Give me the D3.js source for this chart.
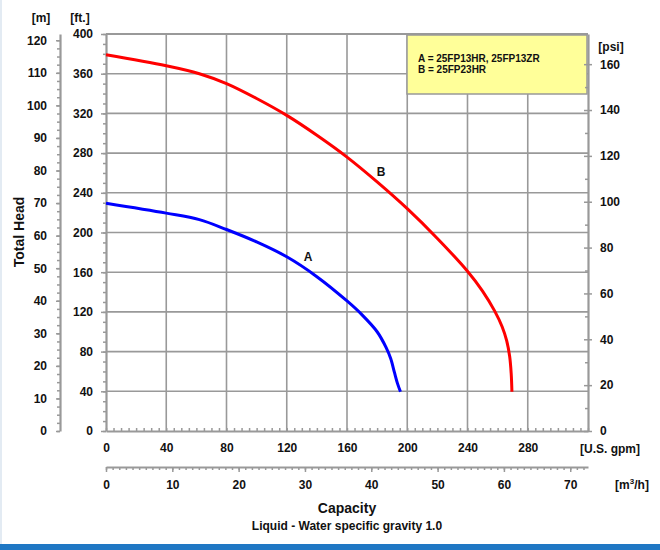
<!DOCTYPE html>
<html lang="en">
<head>
<meta charset="UTF-8">
<title>Pump curve</title>
<style>
  body { margin: 0; background: #fff; }
  svg text { font-family: "Liberation Sans", Arial, sans-serif; font-weight: bold; fill: #111; }
</style>
</head>
<body>
<script src="https://d3js.org/d3.v7.min.js"></script>
<script>
// ---- data (capacity in US gpm, head in ft) ----
var gpmTicks = [0, 40, 80, 120, 160, 200, 240, 280];
var m3hTicks = [0, 10, 20, 30, 40, 50, 60, 70];
var ftTicks = [0, 40, 80, 120, 160, 200, 240, 280, 320, 360, 400];
var mTicks = [0, 10, 20, 30, 40, 50, 60, 70, 80, 90, 100, 110, 120];
var psiTicks = [0, 20, 40, 60, 80, 100, 120, 140, 160];

var curveA_gpm = [0, 40, 62, 80, 100, 120, 140, 160, 170, 180, 186, 189, 191.5, 193.5, 195.5];
var curveA_ft  = [229.5, 219.5, 213, 203, 190.5, 175.5, 155.5, 131, 117, 100, 84, 73, 59, 48, 39.6];
var curveB_gpm = [0, 40, 62, 80, 100, 120, 140, 160, 180, 200, 220, 240, 250, 258, 263, 266, 268, 269, 269.5];
var curveB_ft  = [379, 368, 360, 350, 335, 318, 298, 276, 251, 224, 194, 161, 141, 121, 105, 91, 75, 58, 39.6];

var legendLines = ["A = 25FP13HR, 25FP13ZR", "B = 25FP23HR"];

var W = 660, H = 550;
var plotL = 106, plotR = 588, plotT = 34, plotB = 431;
var gray = "#999";

var svg = d3.select("body").append("svg")
    .attr("width", W).attr("height", H);

svg.append("rect").attr("width", W).attr("height", H).attr("fill", "#fff");
svg.append("rect").attr("x", 0).attr("y", 0).attr("width", 2).attr("height", H).attr("fill", "#e3ebf3");
svg.append("rect").attr("x", 0).attr("y", 544).attr("width", W).attr("height", 6).attr("fill", "#1f77c4");

var x = d3.scaleLinear().domain([0, 320]).range([plotL, plotR]);
var xm3 = d3.scaleLinear().domain([0, 320 / 4.4029]).range([plotL, plotR]);
var y = d3.scaleLinear().domain([0, 400]).range([plotB, plotT]);
var ym = d3.scaleLinear().domain([0, 400 * 0.3048]).range([plotB, plotT]);
var yp = d3.scaleLinear().domain([0, 400 / 2.31]).range([plotB, plotT]);

// grid
var grid = svg.append("g").attr("stroke", gray).attr("stroke-width", 1.6);
grid.selectAll(".gv").data(gpmTicks.slice(1)).enter().append("line")
    .attr("x1", function(d) { return x(d); }).attr("x2", function(d) { return x(d); })
    .attr("y1", plotT).attr("y2", plotB);
grid.selectAll(".gh").data(ftTicks.slice(1)).enter().append("line")
    .attr("y1", function(d) { return y(d); }).attr("y2", function(d) { return y(d); })
    .attr("x1", plotL).attr("x2", plotR);

// legend box
svg.append("rect").attr("x", 407).attr("y", 35).attr("width", 180).attr("height", 59)
    .attr("fill", "#ffff99").attr("stroke", gray).attr("stroke-width", 1.5);
svg.selectAll(".leg").data(legendLines).enter().append("text")
    .attr("x", 418).attr("y", function(d, i) { return 62 + i * 11; })
    .attr("font-size", "10px").text(function(d) { return d; });

function styleAxis(g) {
    g.select(".domain").attr("stroke", gray).attr("stroke-width", 2.2);
    g.selectAll(".tick line").attr("stroke", gray).attr("stroke-width", 1.5);
    g.selectAll("text").attr("font-size", "12px").attr("fill", "#111");
}

// ft axis (left of plot)
svg.append("g").attr("transform", "translate(" + plotL + ",0)")
    .call(d3.axisLeft(y).tickValues(d3.range(0, 401, 10)).tickSize(3).tickFormat("").tickSizeOuter(0))
    .call(styleAxis);
svg.append("g").attr("transform", "translate(" + plotL + ",0)")
    .call(d3.axisLeft(y).tickValues(ftTicks).tickSize(5).tickPadding(8))
    .call(styleAxis).call(function(g) { g.select(".domain").remove(); });

// m axis
svg.append("g").attr("transform", "translate(60,0)")
    .call(d3.axisLeft(ym).tickValues(d3.range(0, 121, 2.5)).tickSize(3).tickFormat("").tickSizeOuter(0))
    .call(styleAxis);
svg.append("g").attr("transform", "translate(60,0)")
    .call(d3.axisLeft(ym).tickValues(mTicks).tickSize(4).tickPadding(9))
    .call(styleAxis).call(function(g) { g.select(".domain").remove(); });

// psi axis (right)
svg.append("g").attr("transform", "translate(" + plotR + ",0)")
    .call(d3.axisLeft(yp).tickValues(d3.range(10, 170, 20)).tickSize(3).tickFormat("").tickSizeOuter(0))
    .call(styleAxis);
var psiAx = svg.append("g").attr("transform", "translate(" + plotR + ",0)")
    .call(d3.axisRight(yp).tickValues(psiTicks).tickSize(4).tickPadding(8))
    .call(styleAxis).call(function(g) { g.select(".domain").remove(); });
psiAx.selectAll(".tick line").attr("x1", -4);

// gpm axis (bottom of plot)
svg.append("g").attr("transform", "translate(0," + plotB + ")")
    .call(d3.axisTop(x).tickValues(d3.range(0, 321, 5)).tickSize(3).tickFormat("").tickSizeOuter(0))
    .call(styleAxis);
svg.append("g").attr("transform", "translate(0," + plotB + ")")
    .call(d3.axisBottom(x).tickValues(gpmTicks).tickSize(0).tickPadding(12))
    .call(styleAxis).call(function(g) { g.select(".domain").remove(); });

// m3/h axis
var m3y = 467;
svg.append("g").attr("transform", "translate(0," + m3y + ")")
    .call(d3.axisBottom(xm3).tickValues(d3.range(0, 73, 1)).tickSize(3).tickFormat("").tickSizeOuter(0))
    .call(styleAxis);
svg.append("g").attr("transform", "translate(0," + m3y + ")")
    .call(d3.axisBottom(xm3).tickValues(m3hTicks).tickSize(5).tickPadding(8))
    .call(styleAxis).call(function(g) { g.select(".domain").remove(); });

// top border
svg.append("line").attr("x1", plotL).attr("x2", plotR).attr("y1", plotT).attr("y2", plotT)
    .attr("stroke", gray).attr("stroke-width", 2);

// curves
var line = d3.line()
    .x(function(d) { return x(d[0]); })
    .y(function(d) { return y(d[1]); })
    .curve(d3.curveCatmullRom.alpha(0.5));

svg.append("path").datum(d3.zip(curveB_gpm, curveB_ft))
    .attr("d", line).attr("fill", "none").attr("stroke", "#ff0000").attr("stroke-width", 3);
svg.append("path").datum(d3.zip(curveA_gpm, curveA_ft))
    .attr("d", line).attr("fill", "none").attr("stroke", "#0000ff").attr("stroke-width", 3);

svg.append("text").attr("x", 308).attr("y", 261).attr("text-anchor", "middle")
    .attr("font-size", "12px").text("A");
svg.append("text").attr("x", 381).attr("y", 176).attr("text-anchor", "middle")
    .attr("font-size", "12px").text("B");

// unit labels and titles
svg.append("text").attr("x", 41).attr("y", 22).attr("text-anchor", "middle").attr("font-size", "12px").text("[m]");
svg.append("text").attr("x", 80).attr("y", 22).attr("text-anchor", "middle").attr("font-size", "12px").text("[ft.]");
svg.append("text").attr("x", 611).attr("y", 51).attr("text-anchor", "middle").attr("font-size", "12px").text("[psi]");
svg.append("text").attr("x", 610).attr("y", 453).attr("text-anchor", "middle").attr("font-size", "12px").text("[U.S. gpm]");
var m3 = svg.append("text").attr("x", 632).attr("y", 489).attr("text-anchor", "middle").attr("font-size", "12px");
m3.append("tspan").text("[m");
m3.append("tspan").attr("dy", -5).attr("font-size", "8px").text("3");
m3.append("tspan").attr("dy", 5).text("/h]");

svg.append("text").attr("transform", "translate(24,232) rotate(-90)").attr("text-anchor", "middle")
    .attr("font-size", "14px").text("Total Head");
svg.append("text").attr("x", 347).attr("y", 513).attr("text-anchor", "middle")
    .attr("font-size", "14px").text("Capacity");
svg.append("text").attr("x", 347).attr("y", 530).attr("text-anchor", "middle")
    .attr("font-size", "12px").text("Liquid - Water specific gravity 1.0");
</script>
</body>
</html>
